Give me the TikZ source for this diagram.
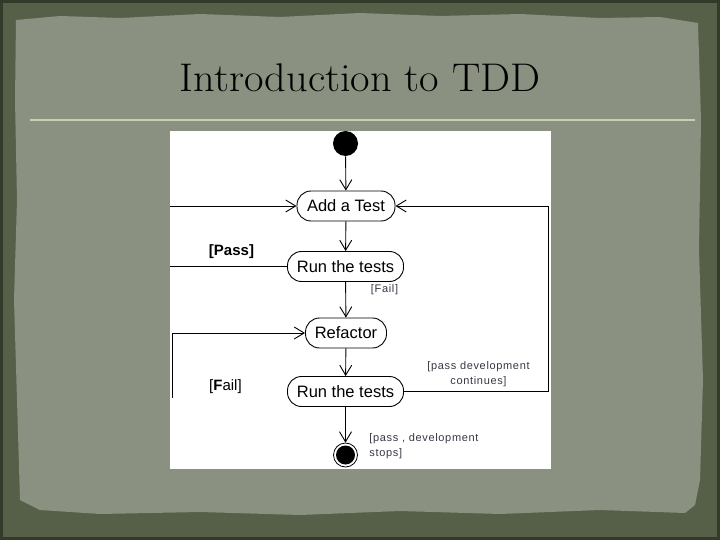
\documentclass[tikz,border=0pt]{standalone}
\usepackage{fontspec}
\usepackage{xcolor}
\usepackage{tikz}
\usetikzlibrary{positioning,arrows.meta}

\newfontfamily\umlfont{Liberation Sans}
\newfontfamily\umlthin[LetterSpace=6]{Liberation Sans}
\definecolor{paper}{RGB}{138,145,128}
\definecolor{frame}{RGB}{86,96,72}
\definecolor{frameedge}{RGB}{52,58,42}
\definecolor{titlerule}{RGB}{198,208,178}
\definecolor{guardtext}{RGB}{55,55,68}

\begin{document}
\begin{tikzpicture}[
    x=1pt, y=-1pt, % pixel-like coordinates, y down
    line width=0.9pt,
    activity/.style={rectangle,draw,rounded corners=14pt,minimum height=30pt,inner sep=0pt,font=\umlfont\fontsize{16.5}{18}\selectfont},
    flow/.style={-{Straight Barb[length=10pt,width=12pt]}},
    guard/.style={inner sep=0pt,font=\umlfont\fontsize{15}{17}\selectfont},
    note/.style={inner sep=0pt,text=guardtext,font=\umlthin\fontsize{11}{14.5}\selectfont}
]
    \useasboundingbox (0,0) rectangle (720,540);

    % Slide background
    \fill[frame] (0,0) rectangle (720,540);
    \draw[frameedge,line width=3pt] (1.5,1.5) rectangle (718.5,538.5);
    \fill[paper] (16,20) -- (60,16) -- (120,18) -- (200,14) -- (280,17) -- (360,13) -- (440,16)
        -- (520,14) -- (600,18) -- (660,17) -- (698,23) -- (701,120) -- (699,250) -- (703,380)
        -- (700,480) -- (695,505) -- (685,513) -- (600,510) -- (500,514) -- (400,511)
        -- (300,515) -- (200,512) -- (100,514) -- (40,510) -- (20,500) -- (17,400)
        -- (14,300) -- (17,200) -- (15,100) -- cycle;

    % Title
    \node[anchor=base,inner sep=0pt,xscale=1.06,font=\fontsize{40}{42}\selectfont] (title) at (360,92) {Introduction to TDD};
    \draw[titlerule,line width=2pt] (30,120) -- (695,120);

    % Diagram area
    \fill[white] (170,131) rectangle (551,469);

    % Activity nodes
    \node[circle,fill,inner sep=0pt,minimum size=25pt] (start) at (345.5,143.5) {};
    \node[activity,minimum width=98pt] (add) at (346,206) {Add a Test};
    \node[activity,minimum width=116pt] (run1) at (345.5,266.5) {Run the tests};
    \node[activity,minimum width=81pt] (refactor) at (346,333) {Refactor};
    \node[activity,minimum width=116pt] (run2) at (345.5,391.5) {Run the tests};
    \node[circle,draw,line width=0.8pt,inner sep=0pt,minimum size=24pt] (stop) at (345.5,455) {};
    \fill (stop.center) circle (9.5pt);

    % Loose ends and corners
    \coordinate (addin) at (170,206);
    \coordinate (passout) at (170,266.5);
    \coordinate (failin) at (172.5,398);
    \coordinate (loop) at (548,206);

    % Flows
    \draw[flow] (start) -- (add);
    \draw[flow] (addin) -- (add);
    \draw[flow] (add) -- (run1);
    \draw (run1) -- (passout);
    \draw[flow] (run1) -- (refactor);
    \draw[flow] (failin) |- (refactor);
    \draw[flow] (refactor) -- (run2);
    \draw[flow] (run2) -| (loop) -- (add);
    \draw[flow] (run2) -- (stop);

    % Guards
    \node[guard] (pass) at (231.5,252) {\bfseries [Pass]};
    \node[guard] (fail) at (225.5,386.5) {[\textbf{F}ail]};
    \node[note] (failsmall) at (384.5,290) {[Fail]};
    \node[note,align=center] (continues) at (478.5,374) {[pass development\\continues]};
    \node[note,align=left,anchor=west] (stops) at (369,446) {[pass , development\\stops]};
\end{tikzpicture}
\end{document}
